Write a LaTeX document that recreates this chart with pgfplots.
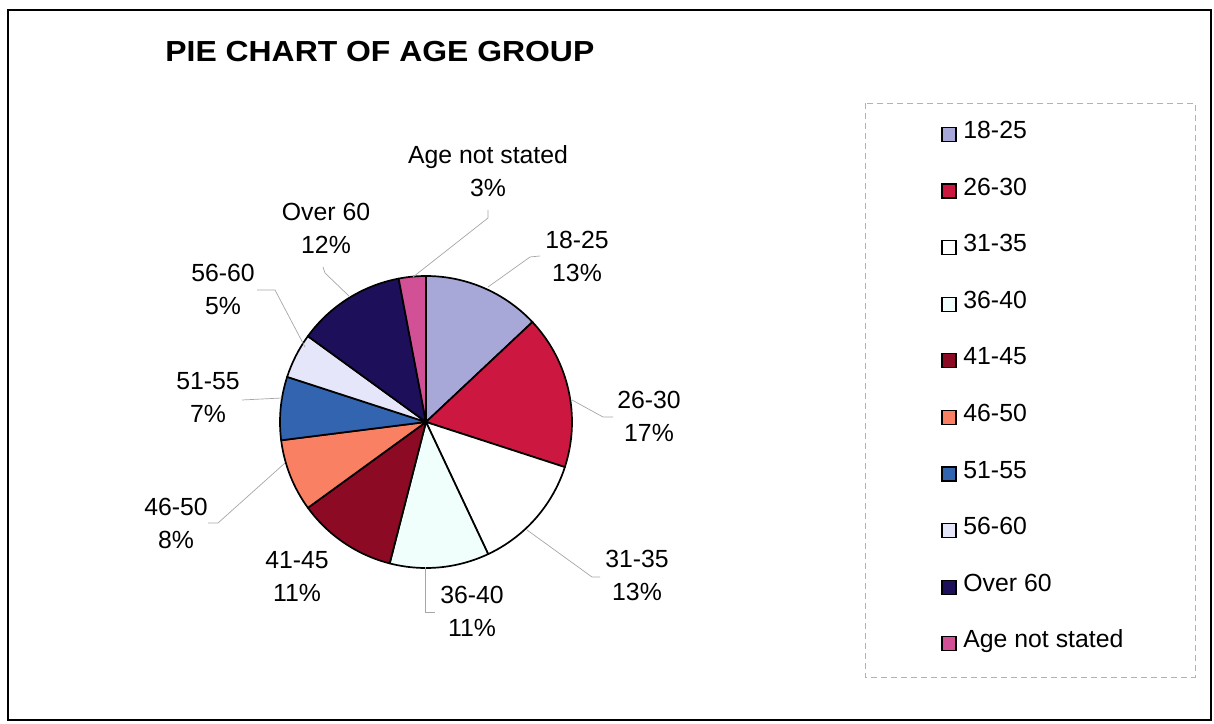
\documentclass[border=0pt]{standalone}
\usepackage{pgfplots}
\pgfplotsset{compat=1.18}
\usepackage{pgfplotstable}
\usepackage{graphicx}
\usepackage{fontspec}
\setmainfont{Liberation Sans}
\definecolor{c1}{RGB}{168,168,216}
\definecolor{c2}{RGB}{204,24,64}
\definecolor{c3}{RGB}{255,255,255}
\definecolor{c4}{RGB}{240,255,252}
\definecolor{c5}{RGB}{140,10,35}
\definecolor{c6}{RGB}{250,128,100}
\definecolor{c7}{RGB}{50,100,175}
\definecolor{c8}{RGB}{230,230,250}
\definecolor{c9}{RGB}{30,15,90}
\definecolor{c10}{RGB}{210,80,150}
\pgfplotstableread[col sep=comma]{
label,value,color
18-25,13,c1
26-30,17,c2
31-35,13,c3
36-40,11,c4
41-45,11,c5
46-50,8,c6
51-55,7,c7
56-60,5,c8
Over 60,12,c9
Age not stated,3,c10
}\agetable
\begin{document}
\begin{tikzpicture}
\begin{axis}[
  scale only axis, width=607pt, height=361.5pt,
  xmin=0, xmax=1214, ymin=0, ymax=723,
  hide axis, clip=false,
  legend style={at={(axis cs:935,609)}, anchor=north west, draw=none, fill=none,
    font=\fontsize{12.4}{14}\selectfont, row sep=14.8pt,
    nodes={inner sep=1pt, text height=9pt, text depth=2.5pt}},
  legend cell align=left,
  legend image code/.code={\draw[#1, line width=0.6pt] (0pt,-4.75pt) rectangle (7pt,2.25pt); \path (9.5pt,0pt);},
]
\path (axis cs:0,0) rectangle (axis cs:1214,723);
\draw[line width=1.1pt] (axis cs:8,713) rectangle (axis cs:1211,3);
\draw[gray!60, densely dashed, line width=0.4pt] (axis cs:865,620) rectangle (axis cs:1195,46);
\node[anchor=west, inner sep=0pt, font=\bfseries\fontsize{14.5}{16}\selectfont] at (axis cs:165,671) {\scalebox{1.1}[1]{PIE CHART OF AGE GROUP}};
\def\cum{0}
\pgfplotsforeachungrouped \i in {0,...,9}{
  \pgfplotstablegetelem{\i}{value}\of\agetable \let\v\pgfplotsretval
  \pgfplotstablegetelem{\i}{color}\of\agetable \let\c\pgfplotsretval
  \pgfmathsetmacro\sa{90-3.6*\cum}
  \pgfmathsetmacro\ea{90-3.6*(\cum+\v)}
  \pgfmathsetmacro\cum{\cum+\v}
  \edef\temp{\noexpand\filldraw[fill=\c, draw=black, line width=0.85pt, line join=round] (axis cs:426,301) -- ++(\sa:73pt) arc[start angle=\sa, end angle=\ea, radius=73pt] -- cycle;}
  \temp
}
\addlegendimage{fill=c1,draw=black}\addlegendentry{18-25}
\addlegendimage{fill=c2,draw=black}\addlegendentry{26-30}
\addlegendimage{fill=c3,draw=black}\addlegendentry{31-35}
\addlegendimage{fill=c4,draw=black}\addlegendentry{36-40}
\addlegendimage{fill=c5,draw=black}\addlegendentry{41-45}
\addlegendimage{fill=c6,draw=black}\addlegendentry{46-50}
\addlegendimage{fill=c7,draw=black}\addlegendentry{51-55}
\addlegendimage{fill=c8,draw=black}\addlegendentry{56-60}
\addlegendimage{fill=c9,draw=black}\addlegendentry{Over 60}
\addlegendimage{fill=c10,draw=black}\addlegendentry{Age not stated}
% leader lines
\begin{scope}[gray!70, line width=0.35pt]
\draw (axis cs:488,513) -- (axis cs:488,505) -- (axis cs:413,446);
\draw (axis cs:540,467) -- (axis cs:530,466) -- (axis cs:488,436);
\draw (axis cs:323,456) -- (axis cs:325,450) -- (axis cs:350,426);
\draw (axis cs:257,433) -- (axis cs:275,433) -- (axis cs:305,376);
\draw (axis cs:242,323) -- (axis cs:282,325);
\draw (axis cs:208,200) -- (axis cs:218,200) -- (axis cs:285,260);
\draw (axis cs:425,156) -- (axis cs:425,111) -- (axis cs:435,111);
\draw (axis cs:527,193) -- (axis cs:592,146) -- (axis cs:600,146);
\draw (axis cs:572,323) -- (axis cs:603,306) -- (axis cs:613,306);
\end{scope}
% labels
\begin{scope}[every node/.style={align=center, font=\fontsize{12.4}{16.5}\selectfont}]
\node at (axis cs:488,552) {Age not stated\\3\%};
\node at (axis cs:577,467) {18-25\\13\%};
\node at (axis cs:326,495) {Over 60\\12\%};
\node at (axis cs:223,434) {56-60\\5\%};
\node at (axis cs:208,325) {51-55\\7\%};
\node at (axis cs:176,200) {46-50\\8\%};
\node at (axis cs:297,146) {41-45\\11\%};
\node at (axis cs:472,112) {36-40\\11\%};
\node at (axis cs:637,148) {31-35\\13\%};
\node at (axis cs:649,307) {26-30\\17\%};
\end{scope}
\end{axis}
\end{tikzpicture}
\end{document}
